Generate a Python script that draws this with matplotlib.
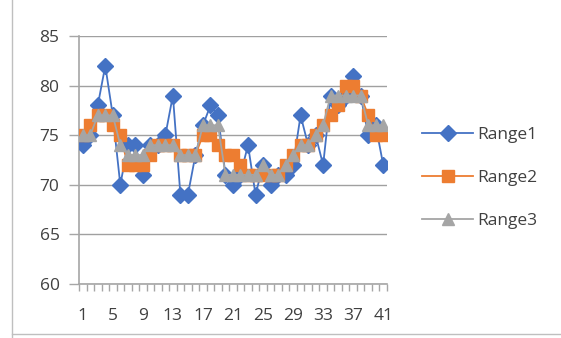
import matplotlib
matplotlib.use("Agg")
import matplotlib.pyplot as plt
from matplotlib.lines import Line2D
import numpy as np

categories = list(range(1, 42))
range1 = [74, 75, 78, 82, 77, 70, 74, 74, 71, 74, 74, 75, 79, 69, 69, 73, 76, 78, 77, 71,
          70, 71, 74, 69, 72, 70, 71, 71, 72, 77, 74, 75, 72, 79, 78, 79, 81, 79, 75, 76, 72]
range2 = [75, 76, 77, 77, 76, 75, 72, 72, 72, 73, 74, 74, 74, 73, 73, 73, 75, 75, 74, 73,
          73, 72, 71, 71, 71, 71, 71, 72, 73, 74, 74, 75, 76, 77, 78, 80, 80, 79, 77, 75, 75]
range3 = [75, 75, 77, 77, 77, 74, 73, 73, 73, 74, 74, 74, 74, 73, 73, 73, 76, 76, 76, 71,
          71, 71, 71, 71, 72, 71, 71, 72, 73, 74, 74, 75, 76, 79, 79, 79, 79, 79, 76, 76, 76]
series_names = ["Range1", "Range2", "Range3"]
y_ticks = [60, 65, 70, 75, 80, 85]
x_tick_labels = [1, 5, 9, 13, 17, 21, 25, 29, 33, 37, 41]

BLUE = "#4472C4"
ORANGE = "#ED7D31"
GRAY = "#A5A5A5"
AXIS = "#A6A6A6"
TEXT = "#404040"
FONT = "Open Sans"
FS = 12.5

fig = plt.figure(figsize=(5.61, 3.38), dpi=100)
ax = fig.add_axes([0.1408, 0.1598, 0.549, 0.7337])

x = np.array(categories)
ax.plot(x, range1, color=BLUE, lw=1.3, marker="D", ms=8.5, mfc=BLUE, mec=BLUE, zorder=3)
ax.plot(x, range2, color=ORANGE, lw=1.3, marker="s", ms=8, mfc=ORANGE, mec=ORANGE, zorder=4)
ax.plot(x, range3, color=GRAY, lw=1.3, marker="^", ms=8.5, mfc=GRAY, mec=GRAY, zorder=5)

ax.set_xlim(0.5, 41.5)
ax.set_ylim(60, 85)
ax.set_yticks(y_ticks)
ax.grid(axis="y", color="#A0A0A0", lw=1.0)
ax.set_axisbelow(True)

ax.set_xticks(np.arange(0.5, 42.0, 1.0), minor=True)
ax.set_xticks(x_tick_labels)
ax.set_xticklabels([str(v) for v in x_tick_labels])
ax.tick_params(axis="x", which="major", length=0, pad=17, labelsize=FS, labelcolor=TEXT)
ax.tick_params(axis="x", which="minor", length=5, width=1, color=AXIS)
ax.tick_params(axis="y", length=7, width=1, color=AXIS, pad=7, labelsize=FS, labelcolor=TEXT)
for lbl in ax.get_xticklabels() + ax.get_yticklabels():
    lbl.set_fontfamily(FONT)

for side in ("top", "right"):
    ax.spines[side].set_visible(False)
for side in ("left", "bottom"):
    ax.spines[side].set_color(AXIS)
    ax.spines[side].set_linewidth(1.2)

handles = [
    Line2D([], [], color=BLUE, lw=1.3, marker="D", ms=8, mfc=BLUE, mec=BLUE),
    Line2D([], [], color=ORANGE, lw=1.3, marker="s", ms=8.5, mfc=ORANGE, mec=ORANGE),
    Line2D([], [], color=GRAY, lw=1.3, marker="^", ms=8.5, mfc=GRAY, mec=GRAY),
]
fig.legend(handles, series_names, loc="upper left", bbox_to_anchor=(0.725, 0.67),
           frameon=False, handlelength=2.9, handletextpad=0.25, labelspacing=1.55,
           prop={"family": FONT, "size": FS}, labelcolor=TEXT)

# chart frame edges
fig.add_artist(Line2D([12 / 561, 12 / 561], [0, 1], transform=fig.transFigure, color="#BFBFBF", lw=1))
fig.add_artist(Line2D([12 / 561, 1], [4 / 338, 4 / 338], transform=fig.transFigure, color="#BFBFBF", lw=1))

fig.savefig("out.png", dpi=100)
